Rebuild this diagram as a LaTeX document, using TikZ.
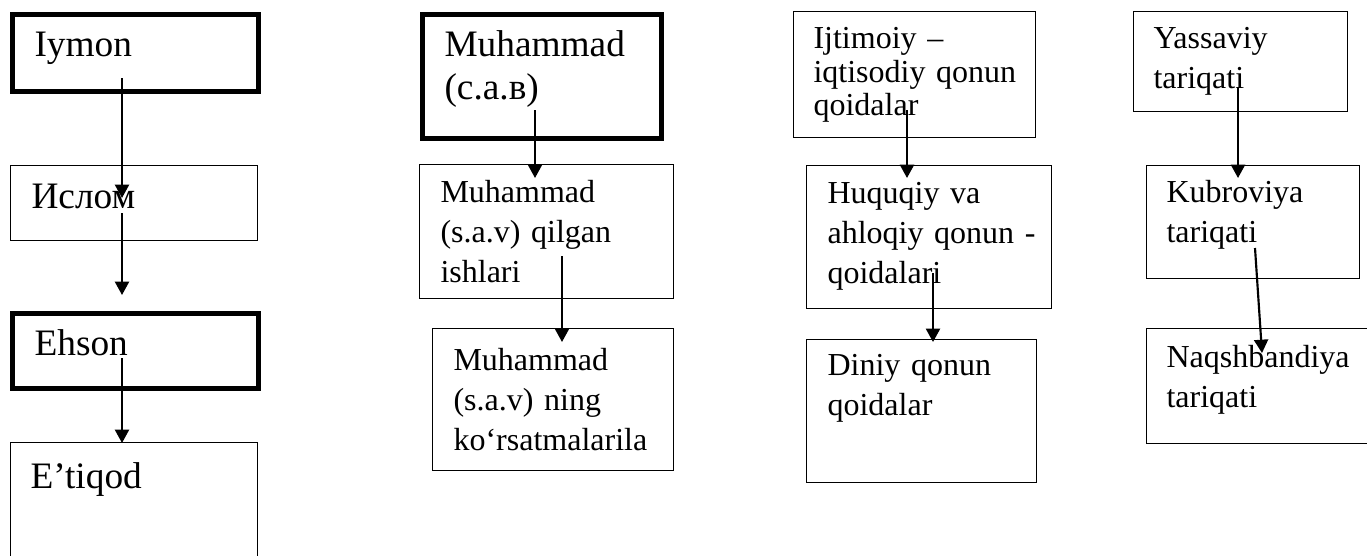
\documentclass[tikz,border=0pt]{standalone}
\usepackage{fontspec}
\setmainfont{Liberation Serif}
\usetikzlibrary{arrows.meta}
\hyphenpenalty=10000
\exhyphenpenalty=10000

\begin{document}
\begin{tikzpicture}[x=0.375pt, y=-0.375pt]
\tikzstyle{plain box} = [draw, line width=0.4pt, anchor=north west, inner ysep=0pt, align=left, font=\fontsize{12}{15}\selectfont]
\tikzstyle{bold box} = [plain box, line width=1.9pt, font=\fontsize{14}{16.1}\selectfont]
\tikzstyle{arrow} = [thick, ->, >={Triangle[length=5pt, width=5.25pt]}]

\useasboundingbox (0,0) rectangle (1367,555);
\clip (0,0) rectangle (1367,555);

\node[bold box, inner xsep=8.25pt, text width=75.75pt, text height=15.75pt, text depth=13.125pt] (iymon) at (10,12) {Iymon};
\node[plain box, font=\fontsize{14}{16.1}\selectfont, inner xsep=7.875pt, text width=76.875pt, text height=16.125pt, text depth=12pt] (islom) at (10,165) {Ислом};
\node[bold box, inner xsep=8.25pt, text width=75.75pt, text height=15.75pt, text depth=12.375pt] (ehson) at (10,311) {Ehson};
\node[plain box, font=\fontsize{14}{16.1}\selectfont, inner xsep=7.5pt, text width=77.625pt, text height=17.25pt, text depth=57.75pt] (etiqod) at (10,442) {E’tiqod};

\node[bold box, inner xsep=8.25pt, text width=73.125pt, text height=15.75pt, text depth=30.75pt] (muhammad) at (420,12) {Muhammad\\(с.а.в)};
\node[plain box, inner xsep=7.875pt, text width=79.5pt, text height=14.25pt, text depth=36pt] (ishlari) at (419,164) {Muhammad\\(s.a.v)~qilgan\\ishlari};
\node[plain box, inner xsep=7.875pt, text width=74.625pt, text height=15.75pt, text depth=37.5pt] (korsatma) at (432,328) {Muhammad\\(s.a.v)~ning\\ko‘rsatmalarila};

\node[plain box, font=\fontsize{12}{12.6}\selectfont, inner xsep=7.5pt, text width=75.75pt, text height=13.875pt, text depth=33.375pt] (ijtimoiy) at (793,11) {Ijtimoiy~–\\iqtisodiy~qonun\\qoidalar};
\node[plain box, inner xsep=7.875pt, text width=76.125pt, text height=14.25pt, text depth=39.375pt] (huquqiy) at (806,165) {Huquqiy~va\\ahloqiy~qonun~-\\qoidalari};
\node[plain box, inner xsep=7.875pt, text width=70.5pt, text height=13.5pt, text depth=40.125pt] (diniy) at (806,339) {Diniy~qonun\\qoidalar};

\node[plain box, inner xsep=7.5pt, text width=65.25pt, text height=13.875pt, text depth=23.625pt] (yassaviy) at (1133,11) {Yassaviy\\tariqati};
\node[plain box, inner xsep=7.5pt, text width=64.875pt, text height=13.875pt, text depth=28.5pt] (kubroviya) at (1146,165) {Kubroviya\\tariqati};
\node[plain box, inner xsep=7.5pt, text width=75pt, text height=14.625pt, text depth=28.5pt] (naqshbandiya) at (1146,328) {Naqshbandiya\\tariqati};

\coordinate (iymon out) at (122,78);
\coordinate (islom in) at (122,198);
\coordinate (islom out) at (122,213);
\coordinate (ehson in) at (122,295);
\coordinate (ehson out) at (122,358);
\coordinate (etiqod in) at (122,443);
\coordinate (muhammad out) at (535,110);
\coordinate (ishlari in) at (535,178);
\coordinate (ishlari out) at (562,256);
\coordinate (korsatma in) at (562,342);
\coordinate (ijtimoiy out) at (907,110);
\coordinate (huquqiy in) at (907,178);
\coordinate (huquqiy out) at (933,273);
\coordinate (diniy in) at (933,342);
\coordinate (yassaviy out) at (1238,87);
\coordinate (kubroviya in) at (1238,178);
\coordinate (kubroviya out) at (1255,248);
\coordinate (naqshbandiya in) at (1262,353);

\draw [arrow] (iymon out) -- (islom in);
\draw [arrow] (islom out) -- (ehson in);
\draw [arrow] (ehson out) -- (etiqod in);
\draw [arrow] (muhammad out) -- (ishlari in);
\draw [arrow] (ishlari out) -- (korsatma in);
\draw [arrow] (ijtimoiy out) -- (huquqiy in);
\draw [arrow] (huquqiy out) -- (diniy in);
\draw [arrow] (yassaviy out) -- (kubroviya in);
\draw [arrow] (kubroviya out) -- (naqshbandiya in);
\end{tikzpicture}
\end{document}
